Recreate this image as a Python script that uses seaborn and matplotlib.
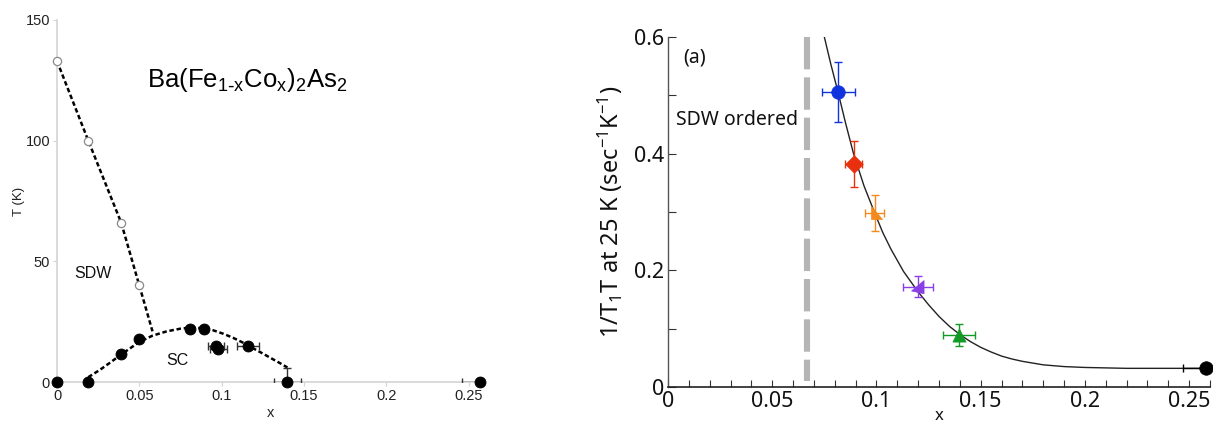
import numpy as np
import pandas as pd
import matplotlib
matplotlib.use("Agg")
import matplotlib.pyplot as plt
import seaborn as sns
from matplotlib.path import Path
from matplotlib.ticker import MultipleLocator, FuncFormatter

# ---------------- data: left panel (phase diagram) ----------------
sdw_x = [0.0, 0.019, 0.039, 0.050]
sdw_T = [133.0, 100.0, 66.0, 40.0]
sdw_line_x = [0.0, 0.019, 0.039, 0.050, 0.058]
sdw_line_T = [133.0, 100.0, 66.0, 40.0, 21.0]

sc_x = [0.0, 0.019, 0.039, 0.050, 0.081, 0.089, 0.0966, 0.098, 0.116, 0.140, 0.257]
sc_T = [0.0, 0.0, 11.6, 17.8, 22.0, 22.0, 15.0, 13.7, 15.0, 0.0, 0.0]
sc_xerr = [0, 0, 0, 0, 0, 0, 0.005, 0.005, 0.0065, 0.008, 0.011]
sc_Terr = [0, 0, 0, 0, 0, 0, 0, 0, 0, 6.0, 0]

dome_x = [0.019, 0.026, 0.032, 0.039, 0.050, 0.058, 0.0667, 0.075, 0.081, 0.088, 0.095,
          0.101, 0.107, 0.113, 0.119, 0.125, 0.131, 0.136, 0.140]
dome_T = [2.0, 5.0, 7.9, 11.4, 16.6, 19.2, 21.0, 22.1, 22.5, 22.3, 21.4,
          20.0, 18.3, 16.3, 14.0, 11.8, 9.5, 7.6, 6.0]

# ---------------- data: right panel (1/T1T at 25 K) ----------------
labels = ["blue", "red", "orange", "purple", "green", "black"]
nmr_x = [0.0816, 0.089, 0.0992, 0.1197, 0.1397, 0.258]
nmr_y = [0.506, 0.382, 0.298, 0.172, 0.089, 0.032]
nmr_xerr = [0.0079, 0.004, 0.0046, 0.0072, 0.0078, 0.011]
nmr_yerr = [0.051, 0.039, 0.031, 0.018, 0.019, 0.0]
colors = ["#1133dd", "#e8300e", "#f28a1e", "#8a3fe6", "#139a26", "#000000"]

fit_x = [0.075, 0.078, 0.0816, 0.085, 0.089, 0.094, 0.0992, 0.103, 0.107, 0.113, 0.120,
         0.125, 0.130, 0.135, 0.140, 0.145, 0.150, 0.155, 0.160, 0.165, 0.170, 0.175,
         0.180, 0.190, 0.200, 0.220, 0.258]
fit_y = [0.600, 0.555, 0.505, 0.455, 0.400, 0.345, 0.298, 0.265, 0.236, 0.198, 0.163,
         0.141, 0.121, 0.104, 0.090, 0.078, 0.068, 0.060, 0.053, 0.048, 0.044, 0.041,
         0.038, 0.035, 0.0335, 0.032, 0.032]

sdw_boundary = 0.0665
sdw_boundary_span = [0.01, 0.6]

# ---------------- style ----------------
sns.set_theme(style="white")
plt.rcParams["font.family"] = ["Liberation Sans", "DejaVu Sans"]
plt.rcParams["mathtext.default"] = "regular"

fig = plt.figure(figsize=(12.13, 4.23), dpi=100)
axL = fig.add_axes([57 / 1213, 1 - 382 / 423, 428 / 1213, 362 / 423])
axR = fig.add_axes([668 / 1213, 1 - 387 / 423, 542 / 1213, 350 / 423])

# ---------- left ----------
light = "#d4d4d4"
axL.plot(sdw_line_x, sdw_line_T, color="black", lw=1.8, ls=(0, (1.8, 1.1)))
axL.plot(dome_x, dome_T, color="black", lw=1.8, ls=(0, (1.8, 1.1)))
sns.scatterplot(x=sdw_x, y=sdw_T, ax=axL, marker="o", s=35, facecolor="white",
                edgecolor="#8a8a8a", linewidth=0.9, zorder=4, clip_on=False)
axL.errorbar(sc_x, sc_T, xerr=sc_xerr, yerr=sc_Terr, fmt="none", ecolor="#333333",
             elinewidth=1.0, capsize=3, zorder=3)
sns.scatterplot(x=sc_x, y=sc_T, ax=axL, marker="o", s=62, color="black",
                edgecolor="black", zorder=5, clip_on=False)

axL.set_xlim(0, 0.26)
axL.set_ylim(0, 150)
axL.set_xticks([0, 0.05, 0.1, 0.15, 0.2, 0.25])
axL.set_yticks([0, 50, 100, 150])
axL.xaxis.set_major_formatter(FuncFormatter(lambda v, p: f"{v:g}"))
axL.yaxis.set_major_formatter(FuncFormatter(lambda v, p: f"{v:g}"))
for s in ["top", "right"]:
    axL.spines[s].set_visible(False)
for s in ["left", "bottom"]:
    axL.spines[s].set_color(light)
    axL.spines[s].set_linewidth(1.2)
axL.tick_params(axis="both", which="major", direction="out", length=3, width=0.8,
                color=light, labelsize=10.5, labelcolor="#222222", pad=2,
                bottom=True, left=True)
axL.set_xlabel("x", fontsize=10.5, labelpad=2, color="#222222")
axL.set_ylabel("T (K)", fontsize=9.5, labelpad=0, color="#222222")
axL.text(0.0546, 125, r"Ba(Fe$_{1\text{-}x}$Co$_{x}$)$_{2}$As$_{2}$", fontsize=18.5,
         color="black", va="center", ha="left")
axL.text(0.0105, 45, "SDW", fontsize=11.5, color="#111111", va="center", ha="left")
axL.text(0.073, 9, "SC", fontsize=11.5, color="#111111", va="center", ha="center")

# ---------- right ----------
rfont = ["Noto Sans", "DejaVu Sans"]
axR.plot([sdw_boundary, sdw_boundary], sdw_boundary_span[::-1], color="#b5b5b5",
         lw=4.4, ls=(0, (5.3, 1.3)), solid_capstyle="butt", zorder=1)
sns.lineplot(x=fit_x, y=fit_y, ax=axR, color="#222222", lw=1.0, zorder=2, sort=False)

for xi, yi, xe, ye, c in zip(nmr_x, nmr_y, nmr_xerr, nmr_yerr, colors):
    axR.errorbar([xi], [yi], xerr=[xe], yerr=[ye] if ye > 0 else None, fmt="none",
                 ecolor=c, elinewidth=1.0, capsize=3, capthick=1.0, zorder=3,
                 clip_on=True)

tri_orange = Path([(-0.55, 1.0), (-0.55, -0.9), (1.0, -0.9), (-0.55, 1.0)],
                  [Path.MOVETO, Path.LINETO, Path.LINETO, Path.CLOSEPOLY])
tri_purple = Path([(0.8, 1.0), (0.8, -0.9), (-1.0, -0.5), (0.8, 1.0)],
                  [Path.MOVETO, Path.LINETO, Path.LINETO, Path.CLOSEPOLY])
df = pd.DataFrame({"x": nmr_x, "y": nmr_y, "label": labels})
marker_map = {"blue": "o", "red": "D", "orange": tri_orange, "purple": tri_purple,
              "green": "^", "black": "o"}
size_map = {"blue": 95, "red": 80, "orange": 100, "purple": 100, "green": 90, "black": 95}
for lab, c in zip(labels, colors):
    sub = df[df["label"] == lab]
    sns.scatterplot(data=sub, x="x", y="y", ax=axR, marker=marker_map[lab],
                    s=size_map[lab], color=c, edgecolor=c, linewidth=0.5, zorder=4,
                    clip_on=False, legend=False)

axR.set_xlim(0, 0.26)
axR.set_ylim(0, 0.6)
axR.xaxis.set_major_locator(MultipleLocator(0.05))
axR.xaxis.set_minor_locator(MultipleLocator(0.01))
axR.yaxis.set_major_locator(MultipleLocator(0.2))
axR.yaxis.set_minor_locator(MultipleLocator(0.1))
axR.xaxis.set_major_formatter(FuncFormatter(lambda v, p: f"{v:g}"))
axR.yaxis.set_major_formatter(FuncFormatter(lambda v, p: f"{v:g}"))
for s in ["top", "right"]:
    axR.spines[s].set_visible(False)
axR.spines["left"].set_color("#555555")
axR.spines["bottom"].set_color("#222222")
axR.spines["left"].set_linewidth(1.0)
axR.spines["bottom"].set_linewidth(1.2)
axR.tick_params(axis="x", which="both", direction="in", length=5, width=0.8,
                color="#333333", bottom=True, top=False)
axR.tick_params(axis="y", which="both", direction="in", length=6, width=0.8,
                color="#333333", left=True, right=False)
axR.tick_params(axis="both", which="major", labelsize=15.5, labelcolor="#111111", pad=3)
for lab in axR.get_xticklabels() + axR.get_yticklabels():
    lab.set_fontfamily(rfont)
axR.set_xlabel("x", fontsize=12, labelpad=-3, fontfamily=rfont, color="#111111")
axR.set_ylabel(r"1/T$_1$T at 25 K (sec$^{-1}$K$^{-1}$)", fontsize=17, labelpad=6,
               fontfamily=rfont, color="#111111")
axR.text(0.0072, 0.565, "(a)", fontsize=14, fontfamily=rfont, color="#111111",
         va="center", ha="left")
axR.text(0.0037, 0.458, "SDW ordered", fontsize=14, fontfamily=rfont, color="#111111",
         va="center", ha="left")

fig.savefig("out.png", dpi=100)
